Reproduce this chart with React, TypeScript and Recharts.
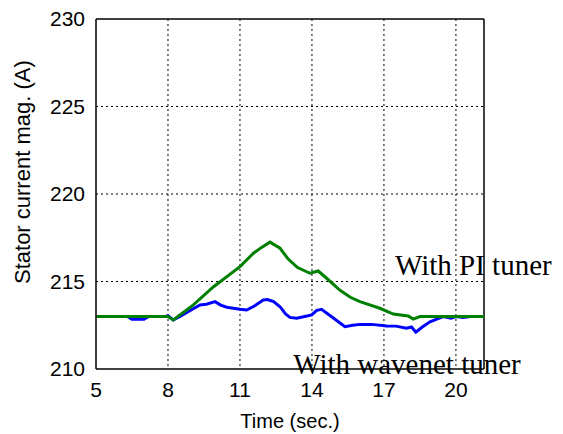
import React from "react";
import { LineChart, Line, XAxis, YAxis, CartesianGrid, ReferenceLine, ReferenceDot } from "recharts";

const xTicks = [5, 8, 11, 14, 17, 20];
const yTicks = [210, 215, 220, 225, 230];
const xMax = 21.17;

const piTime = [5, 8.0, 8.22, 9.0, 9.9, 11.0, 11.55, 11.9, 12.25, 12.67, 13.0, 13.4, 13.92, 14.26, 14.6, 15.17, 15.6, 16.0, 16.83, 17.39, 18.01, 18.22, 18.5, 21.17];
const piCurrent = [213, 213, 212.8, 213.6, 214.7, 215.85, 216.6, 216.95, 217.25, 216.9, 216.3, 215.8, 215.47, 215.6, 215.2, 214.5, 214.1, 213.85, 213.47, 213.14, 213.03, 212.85, 213.0, 213.0];

const wnTime = [5, 6.3, 6.5, 7.0, 7.2, 7.9, 8.0, 8.22, 8.5, 9.0, 9.33, 9.6, 9.96, 10.2, 10.45, 11.0, 11.28, 11.6, 11.97, 12.15, 12.4, 12.67, 12.9, 13.08, 13.36, 13.7, 13.99, 14.2, 14.4, 14.82, 15.1, 15.375, 15.7, 16.0, 16.5, 17.11, 17.5, 17.94, 18.15, 18.33, 18.6, 18.92, 19.2, 19.47, 19.8, 20.0, 20.3, 20.6, 21.17];
const wnCurrent = [213, 213, 212.85, 212.85, 213, 213, 213.05, 212.8, 213.0, 213.4, 213.66, 213.7, 213.85, 213.65, 213.53, 213.41, 213.37, 213.6, 213.94, 213.97, 213.85, 213.56, 213.15, 212.95, 212.9, 213.0, 213.09, 213.35, 213.41, 212.99, 212.7, 212.42, 212.5, 212.55, 212.55, 212.46, 212.45, 212.33, 212.4, 212.1, 212.4, 212.7, 212.85, 213.0, 212.9, 213.0, 212.95, 213.0, 213.0];

const piData = piTime.map((t, i) => ({ t, v: piCurrent[i] }));
const wnData = wnTime.map((t, i) => ({ t, v: wnCurrent[i] }));

const annotations = [
  { label: "With PI tuner", t: 17.46, v: 215.4 },
  { label: "With wavenet tuner", t: 13.22, v: 209.7 },
];

const makeLabel = (text: string) => (props: any) => {
  const vb = props.viewBox || {};
  const x = (vb.x ?? 0) + (vb.width ?? 0) / 2;
  const y = (vb.y ?? 0) + (vb.height ?? 0) / 2;
  return (
    <text x={x} y={y} textAnchor="start" fontFamily="'Liberation Serif', 'Times New Roman', serif" fontSize={29} fill="#000">
      {text}
    </text>
  );
};

export default function App() {
  const axisFont = { fontFamily: "'Liberation Sans', Arial, sans-serif", fontSize: 21, fill: "#000" };
  return (
    <div style={{ position: "absolute", left: 0, top: 0, width: 563, height: 434, background: "#fff" }}>
      <LineChart width={563} height={434} margin={{ top: 19, right: 79, bottom: 0, left: 0 }}>
        <CartesianGrid stroke="#000" strokeDasharray="2 3" strokeWidth={1} horizontalValues={[215, 220, 225]} verticalValues={[8, 11, 14, 17, 20]} />
        <XAxis
          type="number"
          dataKey="t"
          domain={[5, xMax]}
          ticks={xTicks}
          allowDataOverflow
          height={65}
          tickLine={false}
          axisLine={{ stroke: "#000", strokeWidth: 1.5 }}
          tick={axisFont}
          tickMargin={7}
          label={{ value: "Time (sec.)", position: "insideBottom", offset: 6, style: { fontFamily: "'Liberation Sans', Arial, sans-serif", fontSize: 20, fill: "#000" } }}
        />
        <YAxis
          type="number"
          domain={[210, 230]}
          ticks={yTicks}
          allowDataOverflow
          width={96}
          tickLine={false}
          axisLine={{ stroke: "#000", strokeWidth: 1.5 }}
          tick={axisFont}
          tickMargin={5}
          label={{ value: "Stator current mag. (A)", angle: -90, position: "insideLeft", offset: 22, dy: 90, style: { fontFamily: "'Liberation Sans', Arial, sans-serif", fontSize: 22, fill: "#000" } }}
        />
        <ReferenceLine y={230} stroke="#000" strokeWidth={1.5} />
        <ReferenceLine x={xMax} stroke="#000" strokeWidth={1.5} />
        <Line data={wnData} dataKey="v" type="linear" stroke="#0000FF" strokeWidth={3} dot={false} isAnimationActive={false} />
        <Line data={piData} dataKey="v" type="linear" stroke="#008000" strokeWidth={3} dot={false} isAnimationActive={false} />
        {annotations.map((a) => (
          <ReferenceDot key={a.label} x={a.t} y={a.v} r={1} fill="none" stroke="none" ifOverflow="visible" label={makeLabel(a.label)} />
        ))}
      </LineChart>
    </div>
  );
}
